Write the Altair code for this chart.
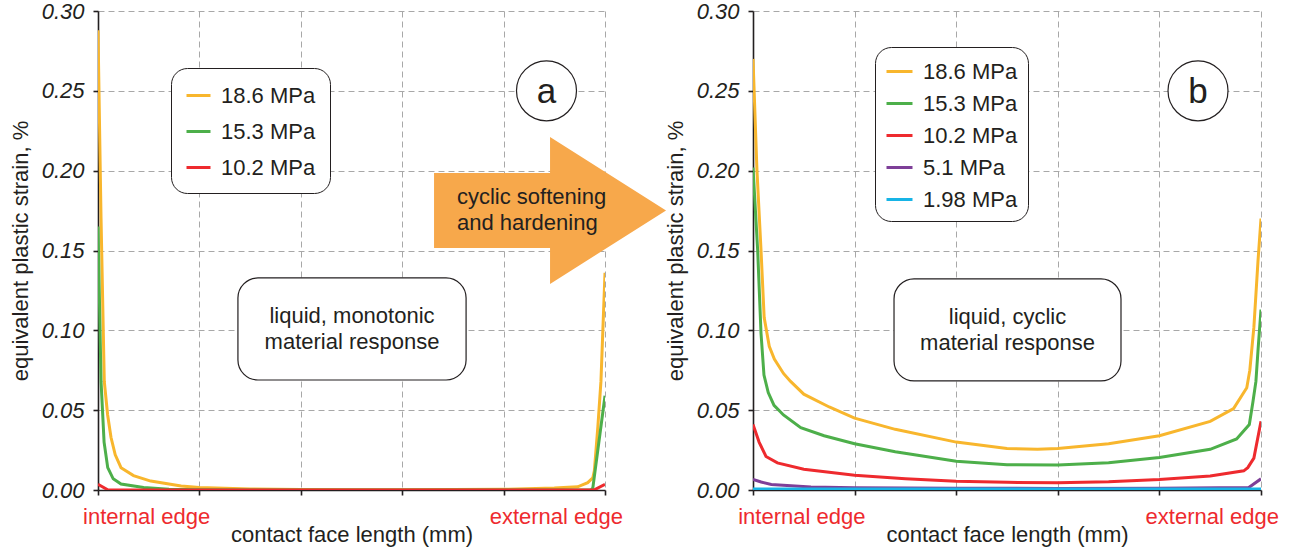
import altair as alt
import pandas as pd

FONT = "Liberation Sans"
INK = "#231F20"
EDGE_RED = "#EE2A2E"
ARROW_FILL = "#F7A84B"
GRID = "#A8A8A8"

# ---------------- data ----------------
a_names = ["18.6 MPa", "15.3 MPa", "10.2 MPa"]
b_names = ["18.6 MPa", "15.3 MPa", "10.2 MPa", "5.1 MPa", "1.98 MPa"]
palette = ["#F8B62D", "#4DAF4A", "#EE2A2E", "#7E3F98", "#17B4E6"]

y_ticks = [0.0, 0.05, 0.10, 0.15, 0.20, 0.25, 0.30]
x_ticks = [0, 1, 2, 3, 4, 5]

# panel a: monotonic material response
a186_x = [0, 0.03, 0.062, 0.095, 0.128, 0.17, 0.227, 0.35, 0.52, 0.82, 1.0, 1.5, 2.0, 2.5, 3.0,
          3.5, 4.0, 4.5, 4.73, 4.83, 4.88, 4.895, 4.93, 4.96, 5.0]
a186_y = [0.288, 0.17, 0.068, 0.047, 0.033, 0.022, 0.014, 0.009, 0.0056, 0.0025, 0.0015, 0.0006,
          0.0003, 0.0002, 0.0002, 0.0003, 0.0004, 0.0012, 0.002, 0.0046, 0.0077, 0.012, 0.040,
          0.068, 0.136]
a153_x = [0, 0.03, 0.06, 0.096, 0.15, 0.227, 0.45, 0.7, 1.0, 1.5, 2.0, 3.0, 4.0, 4.86, 4.88, 5.0]
a153_y = [0.165, 0.068, 0.030, 0.014, 0.007, 0.0037, 0.0015, 0.0005, 0.0002, 0.0, 0.0, 0.0, 0.0,
          0.0, 0.0013, 0.059]
a102_x = [0, 0.1, 1.0, 2.0, 3.0, 4.0, 4.89, 5.0]
a102_y = [0.0035, 0.0, 0.0, 0.0, 0.0, 0.0, 0.0, 0.0035]

# panel b: cyclic material response
b186_x = [0, 0.039, 0.079, 0.11, 0.16, 0.21, 0.3, 0.37, 0.5, 0.75, 1.0, 1.4, 2.0, 2.5, 2.8, 3.0,
          3.5, 4.0, 4.5, 4.73, 4.86, 4.89, 4.93, 4.97, 5.0]
b186_y = [0.270, 0.20, 0.15, 0.108, 0.09, 0.082, 0.073, 0.068, 0.060, 0.052, 0.045, 0.038, 0.030,
          0.026, 0.0255, 0.026, 0.029, 0.034, 0.043, 0.051, 0.064, 0.075, 0.102, 0.143, 0.170]
b153_x = [0, 0.046, 0.079, 0.108, 0.15, 0.207, 0.3, 0.47, 0.7, 1.0, 1.4, 2.0, 2.5, 3.0, 3.5, 4.0,
          4.5, 4.76, 4.885, 4.92, 4.95, 4.97, 5.0]
b153_y = [0.202, 0.15, 0.098, 0.072, 0.061, 0.053, 0.047, 0.039, 0.034, 0.029, 0.024, 0.018,
          0.0158, 0.0157, 0.017, 0.0203, 0.0255, 0.032, 0.041, 0.055, 0.068, 0.087, 0.113]
b102_x = [0, 0.06, 0.128, 0.24, 0.5, 1.0, 1.5, 2.0, 2.5, 3.0, 3.5, 4.0, 4.5, 4.83, 4.87, 4.93, 5.0]
b102_y = [0.041, 0.030, 0.021, 0.017, 0.013, 0.0092, 0.007, 0.0055, 0.0048, 0.0046, 0.0052,
          0.0066, 0.0088, 0.012, 0.014, 0.020, 0.043]
b51_x = [0, 0.08, 0.18, 0.57, 1.0, 2.0, 3.0, 4.0, 4.88, 5.0]
b51_y = [0.0067, 0.005, 0.0035, 0.0019, 0.0014, 0.0011, 0.001, 0.0011, 0.0016, 0.0070]
b198_x = [0, 1, 2, 3, 4, 5]
b198_y = [0.0006, 0.0006, 0.0006, 0.0006, 0.0006, 0.0006]

# annotations (data coordinates)
ARROW_PATH = "M-1,-0.323 L0,-0.323 L0,-0.634 L1,0 L0,0.634 L0,0.323 L-1,0.323 Z"
TXT = 22


def frame(names, xs, ys):
    rows = []
    for n, xl, yl in zip(names, xs, ys):
        for i, (xv, yv) in enumerate(zip(xl, yl)):
            rows.append({"series": n, "x": xv, "y": yv, "i": i})
    return pd.DataFrame(rows)


def X(field="x"):
    return alt.X(f"{field}:Q",
                 scale=alt.Scale(domain=[0, 5], nice=False, zero=False),
                 axis=alt.Axis(values=x_ticks, labels=False, title="contact face length (mm)",
                               titleFontSize=TXT, titlePadding=29, tickSize=5))


def Y(field="y"):
    return alt.Y(f"{field}:Q",
                 scale=alt.Scale(domain=[0, 0.3], nice=False, zero=False),
                 axis=alt.Axis(values=y_ticks, format=".2f", title="equivalent plastic strain, %",
                               titleFontSize=TXT, titlePadding=9, labelFontSize=22,
                               labelFontStyle="italic", labelPadding=9, tickSize=5))


def panel(names, xs, ys, legend_xy, sym_len, row_pad, leg_pad, letter, letter_xy,
          box, box_text, width):
    df = frame(names, xs, ys)
    lines = alt.Chart(df).mark_line(strokeWidth=3, clip=True).encode(
        x=X(), y=Y(),
        color=alt.Color("series:N",
                        scale=alt.Scale(domain=names, range=palette[:len(names)]),
                        sort=names,
                        legend=alt.Legend(title=None, orient="none", legendX=legend_xy[0],
                                          legendY=legend_xy[1], direction="vertical",
                                          symbolType="stroke", symbolSize=sym_len ** 2,
                                          symbolStrokeWidth=3, labelFontSize=TXT,
                                          labelFont=FONT, labelColor=INK, labelOffset=9,
                                          rowPadding=row_pad, padding=leg_pad,
                                          strokeColor=INK, cornerRadius=16,
                                          fillColor="white", labelLimit=0)),
    )
    bdf = pd.DataFrame([{"x": box[0], "x2": box[1], "y": box[2], "y2": box[3],
                         "cx": (box[0] + box[1]) / 2, "cy": (box[2] + box[3]) / 2,
                         "t": box_text}])
    rect = alt.Chart(bdf).mark_rect(cornerRadius=20, fill="white", stroke=INK,
                                     strokeWidth=1.2).encode(
        x=X("x"), x2="x2:Q", y=Y("y"), y2="y2:Q")
    rtext = alt.Chart(bdf).mark_text(fontSize=TXT, font=FONT, color=INK, lineBreak="\n",
                                      lineHeight=26, align="center", dy=-13,
                                      baseline="middle").encode(
        x=X("cx"), y=Y("cy"), text="t:N")
    ldf = pd.DataFrame([{"x": letter_xy[0], "y": letter_xy[1], "t": letter}])
    circ = alt.Chart(ldf).mark_point(shape="circle", size=3600, filled=True, fill="white",
                                      stroke=INK, strokeWidth=1.2, opacity=1).encode(
        x=X(), y=Y())
    ltext = alt.Chart(ldf).mark_text(fontSize=35, font=FONT, color=INK, baseline="middle",
                                      dy=1).encode(x=X(), y=Y(), text="t:N")
    edf = pd.DataFrame([{"x": 0.48, "t": "internal edge"}, {"x": 4.52, "t": "external edge"}])
    edges = alt.Chart(edf).mark_text(fontSize=TXT, font=FONT, color=EDGE_RED,
                                      baseline="middle").encode(
        x=X(), y=alt.value(506), text="t:N")
    return [lines, rect, rtext, circ, ltext, edges], width


# ---- panel a ----
a_layers, a_w = panel(a_names, [a186_x, a153_x, a102_x], [a186_y, a153_y, a102_y],
                      (73, 57), 24, 11, 14, "a", (4.423, 0.25),
                      (1.38, 3.63, 0.0689, 0.1328),
                      "liquid, monotonic\nmaterial response", 507)
arrow_df = pd.DataFrame([{"x": 4.458, "y": 0.1751, "tx": 3.54,
                          "t": "cyclic softening\nand hardening"}])
arrow = alt.Chart(arrow_df).mark_point(shape=ARROW_PATH, size=232 ** 2, filled=True,
                                       color=ARROW_FILL, opacity=1, strokeWidth=0).encode(
    x=X(), y=Y())
arrow_text = alt.Chart(arrow_df).mark_text(fontSize=TXT, font=FONT, color=INK, align="left",
                                           baseline="middle", lineBreak="\n", dy=-13,
                                           lineHeight=26).encode(
    x=X("tx"), y=Y(), text="t:N")
left = alt.layer(*a_layers, arrow, arrow_text).properties(width=a_w, height=479)

# ---- panel b ----
b_layers, b_w = panel(b_names, [b186_x, b153_x, b102_x, b51_x, b198_x],
                      [b186_y, b153_y, b102_y, b51_y, b198_y],
                      (122, 36), 26, 6, 10, "b", (4.38, 0.25),
                      (1.388, 3.622, 0.0683, 0.1322),
                      "liquid, cyclic\nmaterial response", 508)
right = alt.layer(*b_layers).properties(width=b_w, height=479)

chart = alt.hconcat(left, right, spacing=148, bounds="flush",
                    padding={"left": 9, "top": 0, "right": 5, "bottom": 5}).resolve_scale(
    color="independent").resolve_legend(color="independent").configure_view(
    stroke=None).configure_axis(
    gridDash=[6, 4], gridColor=GRID, gridWidth=1, domainColor=INK, domainWidth=1.6,
    tickColor=INK, tickWidth=1.6, labelFont=FONT, titleFont=FONT, labelColor=INK,
    titleColor=INK, titleFontWeight="normal")

chart.save("out.html", embed_options={"renderer": "svg", "actions": False})
